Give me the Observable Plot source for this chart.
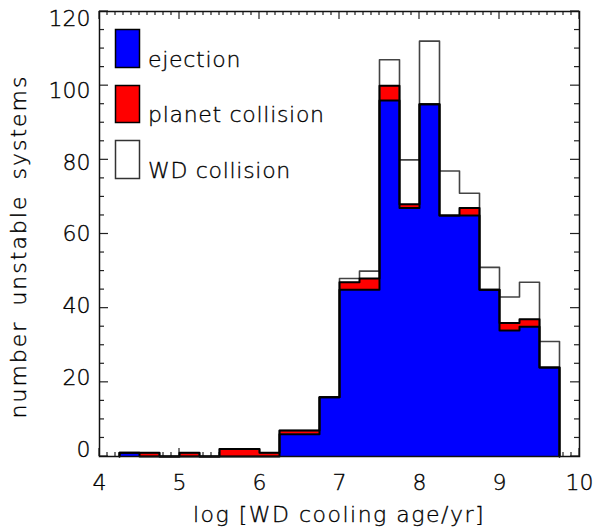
<!DOCTYPE html>
<html>
<head>
<meta charset="utf-8">
<script src="https://cdn.jsdelivr.net/npm/d3@7"></script>
<script src="https://cdn.jsdelivr.net/npm/@observablehq/plot@0.6"></script>
<style>
  html, body { margin: 0; padding: 0; background: #fff; }
  #chart svg { display: block; }
  #chart svg text { fill: #000; stroke: #000; stroke-width: 0.35px; }
</style>
</head>
<body>
<div id="chart"></div>
<script>
// ---- data ----
const binWidth = 0.25;
const binStart = [4.25, 4.5, 4.75, 5.0, 5.25, 5.5, 5.75, 6.0, 6.25, 6.5, 6.75,
                  7.0, 7.25, 7.5, 7.75, 8.0, 8.25, 8.5, 8.75, 9.0, 9.25, 9.5];
const ejection = [1, 0, 0, 0, 0, 0, 0, 0, 6, 6, 16,
                  45, 45, 96, 67, 95, 65, 65, 45, 34, 35, 24];
const planetCollision = [0, 1, 0, 1, 0, 2, 2, 1, 1, 1, 0,
                         2, 3, 4, 1, 0, 0, 2, 0, 2, 2, 0];
const wdCollision = [0, 0, 0, 0, 0, 0, 0, 0, 0, 0, 0,
                     1, 2, 7, 12, 17, 12, 4, 6, 7, 10, 7];
const seriesNames = ["ejection", "planet collision", "WD collision"];
const seriesColors = ["#0000ff", "#ff0000", "#ffffff"];
const xMajorTicks = [4, 5, 6, 7, 8, 9, 10];
const yMajorTicks = [0, 20, 40, 60, 80, 100, 120];
const xTitle = "log [WD cooling age/yr]";
const yTitle = "number unstable systems";

// ---- derived tables ----
const rows = binStart.map((x0, i) => {
  const e = ejection[i], p = planetCollision[i], w = wdCollision[i];
  return {x1: x0, x2: x0 + binWidth, e, ep: e + p, tot: e + p + w};
});
function steps(key) {
  const last = rows[rows.length - 1];
  const pts = [{x: rows[0].x1, y: 0}];
  rows.forEach(r => pts.push({x: r.x1, y: r[key]}));
  pts.push({x: last.x2, y: last[key]});
  pts.push({x: last.x2, y: 0});
  return pts;
}
const xMinor = d3.range(40, 101).map(v => v / 10);
const yMinor = d3.range(0, 121, 5);

const W = 595, H = 529;
const mT = 11, mR = 16, mB = 73, mL = 99;
const pw = W - mL - mR, ph = H - mT - mB;
const FONT = "'DejaVu Sans', 'Liberation Sans', sans-serif";

const chart = Plot.plot({
  width: W, height: H,
  marginTop: mT, marginRight: mR, marginBottom: mB, marginLeft: mL,
  style: {fontFamily: FONT, fontSize: "22px", fontWeight: 200, color: "#000", background: "#fff"},
  x: {domain: [4, 10]},
  y: {domain: [0, 120]},
  marks: [
    Plot.rect(rows, {x1: "x1", x2: "x2", y1: 0, y2: "e", fill: seriesColors[0]}),
    Plot.rect(rows, {x1: "x1", x2: "x2", y1: "e", y2: "ep", fill: seriesColors[1]}),
    Plot.rect(rows, {x1: "x1", x2: "x2", y1: "ep", y2: "tot", fill: seriesColors[2]}),
    Plot.line(steps("tot"), {x: "x", y: "y", curve: "step-after", stroke: "#444", strokeWidth: 1.6}),
    Plot.line(steps("ep"), {x: "x", y: "y", curve: "step-after", stroke: "#000", strokeWidth: 2}),
    Plot.line(steps("e"), {x: "x", y: "y", curve: "step-after", stroke: "#000", strokeWidth: 2}),
    Plot.axisX({ticks: xMajorTicks, tickFormat: d3.format("d"), tickSize: 0, tickPadding: 18, label: null, fontSize: 22}),
    Plot.axisY({ticks: yMajorTicks, tickFormat: d3.format("d"), tickSize: 0, tickPadding: 9, label: null, fontSize: 22}),
    Plot.frame({stroke: "#111", strokeWidth: 1.5})
  ]
});
document.getElementById("chart").appendChild(chart);

const svg = d3.select(chart);
const sx = chart.scale("x"), sy = chart.scale("y");
const X = v => sx.apply(v), Y = v => sy.apply(v);
const x0 = mL, x1 = W - mR, y0 = H - mB, y1 = mT;

// ---- inward ticks on all four sides (beneath the bars), placed through the plot's scales ----
const firstMark = chart.querySelector("g[aria-label]");
const tg = d3.select(chart.insertBefore(document.createElementNS("http://www.w3.org/2000/svg", "g"), firstMark))
  .attr("stroke", "#222").attr("stroke-width", 1.2);
xMinor.forEach(v => {
  const major = xMajorTicks.includes(v);
  const len = major ? 8 : 4;
  tg.append("line").attr("x1", X(v)).attr("x2", X(v)).attr("y1", y0).attr("y2", y0 - len);
  tg.append("line").attr("x1", X(v)).attr("x2", X(v)).attr("y1", y1).attr("y2", y1 + len);
});
yMinor.forEach(v => {
  const major = yMajorTicks.includes(v);
  const len = major ? 9 : 5;
  tg.append("line").attr("y1", Y(v)).attr("y2", Y(v)).attr("x1", x0).attr("x2", x0 + len);
  tg.append("line").attr("y1", Y(v)).attr("y2", Y(v)).attr("x1", x1).attr("x2", x1 - len);
});

// y tick labels in the reference sit on a slightly compressed spacing
svg.selectAll('g[aria-label="y-axis tick label"] text').each(function () {
  const v = +this.textContent;
  const off = 7.5 - 14.5 * (1 - v / 120);
  const el = d3.select(this);
  const t = el.attr("transform") || "";
  el.attr("transform", t + ` translate(0,${off})`);
});

// ---- titles and legend ----
svg.append("text")
  .attr("x", mL + pw / 2).attr("y", 522)
  .attr("text-anchor", "middle")
  .style("font-family", FONT).style("font-size", "22px").style("font-weight", 200)
  .style("letter-spacing", "1.5px")
  .text(xTitle);
svg.append("text")
  .attr("transform", `translate(26,${mT + ph / 2 + 13}) rotate(-90)`)
  .attr("text-anchor", "middle")
  .style("font-family", FONT).style("font-size", "22px").style("font-weight", 200)
  .style("letter-spacing", "2px").style("word-spacing", "6px")
  .text(yTitle);

const legendTops = [29, 85, 140];
const legendHeights = [38, 37, 38];
const legendBaselines = [67, 122, 178];
const leg = svg.append("g");
seriesNames.forEach((name, i) => {
  leg.append("rect")
    .attr("x", 115.5).attr("y", legendTops[i] + 0.5)
    .attr("width", 24).attr("height", legendHeights[i])
    .attr("fill", seriesColors[i]).attr("stroke", i === 2 ? "#333" : "#000").attr("stroke-width", 1.5);
  leg.append("text")
    .attr("x", 148).attr("y", legendBaselines[i])
    .attr("text-anchor", "start")
    .style("font-family", FONT).style("font-size", "22px").style("font-weight", 200)
    .style("letter-spacing", "0.7px")
    .text(name);
});
</script>
</body>
</html>
